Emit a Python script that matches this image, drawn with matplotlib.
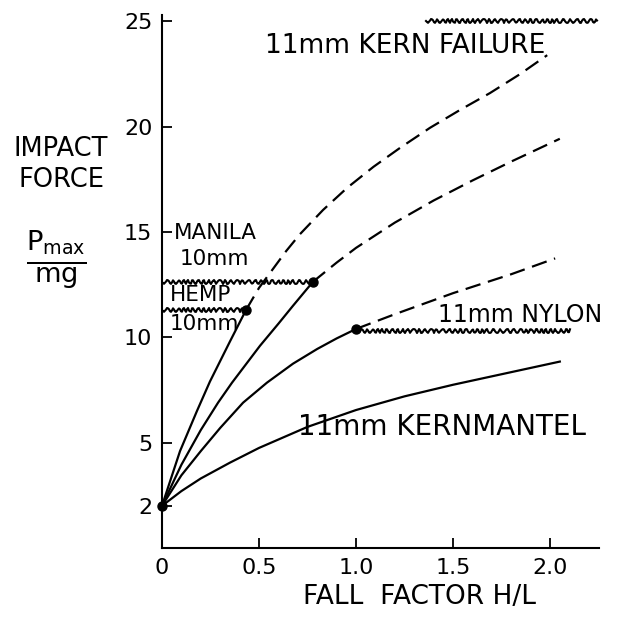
import matplotlib
matplotlib.use("Agg")
import matplotlib.pyplot as plt

# fall factor H/L and impact force Pmax/mg
HEMP_X = [0.0, 0.093, 0.18, 0.247, 0.35, 0.433]
HEMP_Y = [2.0, 4.6, 6.5, 7.9, 9.8, 11.3]
HEMP_EXT_X = [0.433, 0.5, 0.572, 0.64, 0.711, 0.83, 0.954, 1.09, 1.227, 1.381, 1.536, 1.69, 1.845, 1.985]
HEMP_EXT_Y = [11.3, 12.35, 13.25, 14.1, 14.9, 16.05, 17.1, 18.1, 19.0, 19.95, 20.8, 21.6, 22.5, 23.4]

MANILA_X = [0.0, 0.1, 0.2, 0.289, 0.361, 0.505, 0.6, 0.675, 0.778]
MANILA_Y = [2.0, 3.95, 5.6, 6.9, 7.85, 9.6, 10.65, 11.5, 12.64]
MANILA_EXT_X = [0.778, 0.9, 1.0, 1.2, 1.4, 1.6, 1.8, 2.05]
MANILA_EXT_Y = [12.64, 13.55, 14.25, 15.45, 16.5, 17.45, 18.35, 19.43]

NYLON_X = [0.0, 0.1, 0.2, 0.3, 0.418, 0.541, 0.675, 0.8, 0.9, 1.0]
NYLON_Y = [2.0, 3.45, 4.6, 5.7, 6.9, 7.85, 8.75, 9.45, 9.95, 10.4]
NYLON_EXT_X = [1.0, 1.2, 1.5, 1.8, 2.026]
NYLON_EXT_Y = [10.4, 11.1, 12.1, 13.0, 13.75]

KERN_X = [0.0, 0.1, 0.2, 0.35, 0.5, 0.75, 1.0, 1.25, 1.5, 1.75, 2.05]
KERN_Y = [2.0, 2.7, 3.3, 4.05, 4.75, 5.75, 6.55, 7.2, 7.75, 8.25, 8.85]

# failure levels (wavy lines): (x start, x end, level)
FAIL_KERN = (1.36, 2.24, 25.0)
FAIL_MANILA = (0.0, 0.778, 12.64)
FAIL_HEMP = (0.0, 0.433, 11.3)
FAIL_NYLON = (1.0, 2.1, 10.3)

DOTS_X = [0.0, 0.433, 0.778, 1.0]
DOTS_Y = [2.0, 11.3, 12.64, 10.4]

XTICKS = [0, 0.5, 1.0, 1.5, 2.0]
XTICKLABELS = ["0", "0.5", "1.0", "1.5", "2.0"]
YTICKS = [2, 5, 10, 15, 20, 25]

plt.rcParams["font.family"] = ["DejaVu Sans"]
fig = plt.figure(figsize=(6.31, 6.21), dpi=100)
ax = fig.add_axes([0.2567, 0.1176, 0.692, 0.858])

lw = 1.6
ax.plot(HEMP_X, HEMP_Y, color="black", lw=lw)
ax.plot(MANILA_X, MANILA_Y, color="black", lw=lw)
ax.plot(NYLON_X, NYLON_Y, color="black", lw=lw)
ax.plot(KERN_X, KERN_Y, color="black", lw=lw)
for xs, ys in [(HEMP_EXT_X, HEMP_EXT_Y), (MANILA_EXT_X, MANILA_EXT_Y), (NYLON_EXT_X, NYLON_EXT_Y)]:
    ax.plot(xs, ys, color="black", lw=lw, dashes=(7, 3.5))

for x0, x1, level in [FAIL_KERN, FAIL_MANILA, FAIL_HEMP, FAIL_NYLON]:
    wl, = ax.plot([x0, x1], [level, level], color="black", lw=1.5)
    wl.set_sketch_params(scale=2.0, length=6, randomness=2)

ax.plot(DOTS_X, DOTS_Y, "o", color="black", ms=6.5, clip_on=False, zorder=5)

ax.set_xlim(0, 2.25)
ax.set_ylim(0, 25.3)
ax.set_xticks(XTICKS)
ax.set_xticklabels(XTICKLABELS)
ax.set_yticks(YTICKS)
ax.spines["top"].set_visible(False)
ax.spines["right"].set_visible(False)
ax.spines["left"].set_linewidth(1.5)
ax.spines["bottom"].set_linewidth(1.5)
ax.tick_params(direction="in", length=7, width=1.3, labelsize=16, pad=7)

ax.text(0.53, 23.85, "11mm KERN FAILURE", fontsize=19, va="center", ha="left")
ax.text(0.06, 14.95, "MANILA", fontsize=15.5, va="center", ha="left")
ax.text(0.09, 13.7, "10mm", fontsize=15.5, va="center", ha="left")
ax.text(0.04, 12.0, "HEMP", fontsize=15.5, va="center", ha="left")
ax.text(0.04, 10.65, "10mm", fontsize=15.5, va="center", ha="left")
ax.text(1.42, 11.05, "11mm NYLON", fontsize=17, va="center", ha="left")
ax.text(0.70, 5.75, "11mm KERNMANTEL", fontsize=20, va="center", ha="left")

fig.text(0.097, 0.735, "IMPACT\nFORCE", fontsize=18.5, ha="center", va="center", linespacing=1.25)
fig.text(0.09, 0.58, r"$\frac{\mathrm{P_{max}}}{\mathrm{mg}}$", fontsize=28, ha="center", va="center")
fig.text(0.665, 0.018, "FALL  FACTOR H/L", fontsize=19, ha="center", va="bottom")

fig.savefig("out.png", dpi=100)
